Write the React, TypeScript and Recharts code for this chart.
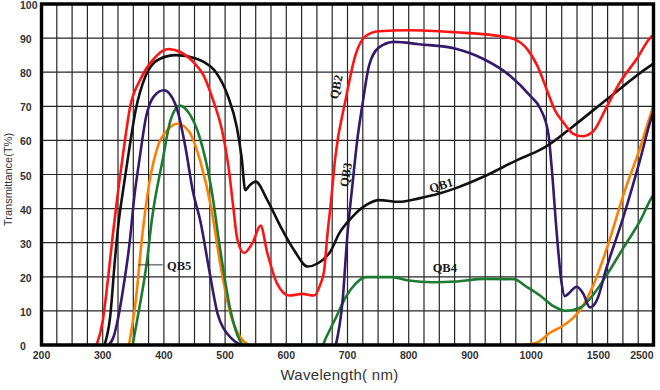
import React from "react"
import {
  CartesianGrid,
  Line,
  LineChart,
  ReferenceArea,
  ReferenceDot,
  ReferenceLine,
  XAxis,
  YAxis,
} from "recharts"

// [wavelength nm, transmittance %]; null breaks the trace where it lies on the axis
const QB1: [number, number | null][] = [
  [303, 0], [312, 8], [320, 25], [326, 36], [333, 45], [343, 57], [354, 69], [370, 78.9],
  [392, 83.8], [420, 85], [452, 84], [465, 83], [485, 80], [505, 72.8], [519, 64], [527, 55],
  [533, 45.4], [540, 46.8], [550, 47.9], [569, 42.5], [591, 34.6], [613, 27.7], [635, 23],
  [651, 23.9], [673, 27.7], [686, 32.6], [708, 37.6], [730, 41], [752, 42.5], [784, 42],
  [817, 43], [850, 44.4], [877, 46], [923, 49.4], [978, 54.3], [1066, 57.2], [1116, 58.3],
  [1311, 64.1], [1650, 72], [2433, 81.8], [2500, 82.5],
]

const QB2: [number, number | null][] = [
  [290, 0], [300, 7], [309, 20], [317, 33], [325, 45], [334, 57], [345, 70], [361, 77.7],
  [382, 83.6], [407, 86.8], [426, 86], [448, 83], [465, 79], [480, 72], [495, 63], [505, 53],
  [513, 41], [520, 31], [531, 27], [545, 30], [558, 35], [569, 27], [585, 18], [605, 14.5],
  [626, 15], [645, 14.5], [656, 18], [662, 22], [667, 32], [673, 42], [680, 55], [697, 72],
  [713, 85], [730, 90.6], [751, 92], [800, 92.3], [877, 91.7], [940, 90.8], [972, 89.7],
  [994, 86.7], [1045, 82], [1120, 74.5], [1175, 69], [1235, 65.5], [1310, 62], [1380, 61.2],
  [1460, 62.6], [1655, 70], [1890, 77], [2200, 84], [2435, 90], [2500, 91],
]

const QB3: [number, number | null][] = [
  [310, 0], [318, 2.5], [323, 6], [333, 16], [344, 30], [352, 44], [360, 54.3], [371, 67],
  [384, 73], [400, 74.7], [420, 70], [436, 57.2], [447, 45.4], [460, 36], [474, 22],
  [488, 9], [497, 5], [505, 3], [515, 1.2], [526, 0], [600, null], [681, 0], [692, 13], [700, 32.7],
  [708, 46.8], [716, 60.2], [724, 70], [735, 81.8], [751, 87.2], [776, 88.9], [817, 88.2],
  [877, 86.9], [923, 83.8], [966, 78.9], [999, 73], [1066, 69.5], [1128, 62], [1153, 52],
  [1190, 33], [1227, 18], [1250, 14.3], [1276, 15], [1339, 17.1], [1388, 15], [1437, 11],
  [1487, 13], [1650, 22.8], [1952, 37.5], [2256, 54.3], [2468, 67], [2500, 68.5],
]

const QB4: [number, number | null][] = [
  [349, 0], [360, 11], [371, 22.8], [381, 37.6], [398, 54.3], [411, 66], [426, 70.2],
  [441, 68], [458, 61.2], [477, 46.4], [493, 26.8], [509, 10], [520, 3], [530, 0], [659, 0],
  [665, 2.2], [681, 8], [697, 14], [713, 17.9], [730, 19.9], [773, 19.9], [800, 18.9],
  [839, 18.4], [877, 18.6], [923, 19.4], [972, 19.3], [994, 16.9], [1066, 14.5], [1169, 11.3],
  [1257, 10], [1368, 11], [1466, 15], [1660, 20.8], [1961, 28.7], [2264, 36.6], [2477, 43.5],
  [2500, 44],
]

const QB5: [number, number | null][] = [
  [343, 0], [354, 13], [365, 32.7], [376, 47.4], [390, 58.2], [406, 63.1], [422, 64.9],
  [441, 62.6], [460, 53.5], [477, 40.5], [493, 22.8], [509, 9], [525, 2.2], [539, 0],
  [700, null], [985, 0], [1030, 0.5], [1070, 1.3], [1140, 3.6], [1218, 5.2], [1318, 8.2],
  [1368, 10.5], [1392, 12], [1466, 17.9], [1660, 28.7], [1961, 44.4], [2264, 58.2],
  [2477, 69], [2500, 70],
]

const X_TICKS = [200, 300, 400, 500, 600, 700, 800, 900, 1000, 1500, 2500]
const Y_TICKS = [0, 10, 20, 30, 40, 50, 60, 70, 80, 90, 100]

// the axis is linear to 1000 nm, then compressed
function toU(wl: number): number {
  if (wl <= 1000) return wl
  if (wl <= 1500) return 1000 + ((wl - 1000) * 110) / 500
  return 1110 + ((wl - 1500) * 90) / 1000
}

const pts = (arr: [number, number | null][]) => arr.map(([wl, t]) => ({ u: toU(wl), t }))

const GRID_U: number[] = []
for (let v = 225; v < 1200; v += 25) GRID_U.push(v)

const tickFont = { fontFamily: "'Liberation Sans', Arial, sans-serif", fontSize: 10.5, fontWeight: 700 }
const tagFont = { fontFamily: "'Liberation Serif', 'Times New Roman', serif", fontSize: 12.5, fontWeight: 700 }

function XTick({ x, y, payload }: any) {
  const i = X_TICKS.findIndex((w) => Math.abs(toU(w) - payload.value) < 0.01)
  const last = payload.value >= 1200
  return (
    <text x={x} y={y + 14} textAnchor={last ? "end" : "middle"} fill="#333" {...tickFont}>
      {i >= 0 ? X_TICKS[i] : ""}
    </text>
  )
}

function YTick({ x, y, payload }: any) {
  return (
    <text x={x - 21.5} y={y + 5} textAnchor="start" fill="#333" {...tickFont}>
      {payload.value}
    </text>
  )
}

function tag(wl: number, t: number, text: string, angle: number) {
  return (
    <ReferenceDot
      key={text}
      x={toU(wl)}
      y={t}
      r={0}
      fill="none"
      stroke="none"
      label={{ value: text, position: "center", angle, fill: "#1a1a1a", ...tagFont }}
    />
  )
}

const lineProps = { dataKey: "t", type: "monotone" as const, strokeWidth: 2.6, dot: false, isAnimationActive: false }

export default function App() {
  return (
    <div style={{ position: "absolute", left: 0, top: 0, width: 660, height: 390, background: "#fff" }}>
      <LineChart width={660} height={390} margin={{ top: 4, right: 6.5, bottom: 0, left: 0 }}>
        <CartesianGrid stroke="#262626" strokeWidth={1.2} vertical={false} />
        {GRID_U.map((v) => (
          <ReferenceLine key={v} x={v} stroke="#262626" strokeWidth={1.2} />
        ))}
        <XAxis
          type="number"
          dataKey="u"
          domain={[200, 1200]}
          ticks={X_TICKS.map(toU)}
          interval={0}
          height={45}
          tickSize={0}
          tickMargin={0}
          axisLine={false}
          tickLine={false}
          tick={<XTick />}
          allowDataOverflow
          label={{
            value: "Wavelength( nm)",
            position: "insideBottom",
            offset: 10,
            dx: -8,
            fill: "#333",
            fontFamily: "'Liberation Sans', Arial, sans-serif",
            fontSize: 15,
            letterSpacing: 0.3,
          }}
        />
        <YAxis
          type="number"
          domain={[0, 100]}
          ticks={Y_TICKS}
          interval={0}
          width={41.5}
          tickSize={0}
          tickMargin={0}
          axisLine={false}
          tickLine={false}
          tick={<YTick />}
          label={{
            content: ({ viewBox }: any) => {
              const cx = viewBox.x + 8
              const cy = viewBox.y + viewBox.height / 2 + 5
              return (
                <text
                  x={cx}
                  y={cy}
                  transform={`rotate(-90 ${cx} ${cy})`}
                  textAnchor="middle"
                  dominantBaseline="central"
                  fill="#333"
                  fontFamily="'Liberation Sans', Arial, sans-serif"
                  fontSize={11}
                >
                  Transmittance(T%)
                </text>
              )
            },
          }}
        />
        <Line data={pts(QB5)} stroke="#ff7f00" {...lineProps} />
        <Line data={pts(QB4)} stroke="#1d7a31" {...lineProps} />
        <Line data={pts(QB3)} stroke="#341a68" {...lineProps} />
        <Line data={pts(QB1)} stroke="#111111" {...lineProps} />
        <Line data={pts(QB2)} stroke="#ff1414" {...lineProps} />
        <ReferenceLine
          segment={[
            { x: 358, y: 23.5 },
            { x: 398, y: 23.5 },
          ]}
          stroke="#333"
          strokeWidth={1}
        />
        {tag(681, 75.7, "QB2", -78)}
        {tag(697, 49.9, "QB3", -80)}
        {tag(853, 46.9, "QB1", -17)}
        {tag(859, 22.6, "QB4", 0)}
        {tag(425, 23.2, "QB5", 0)}
        <ReferenceArea
          x1={200}
          x2={1200}
          y1={0}
          y2={100}
          fill="none"
          stroke="#000"
          strokeWidth={3.4}
          ifOverflow="visible"
          zIndex={1500}
        />
      </LineChart>
    </div>
  )
}
